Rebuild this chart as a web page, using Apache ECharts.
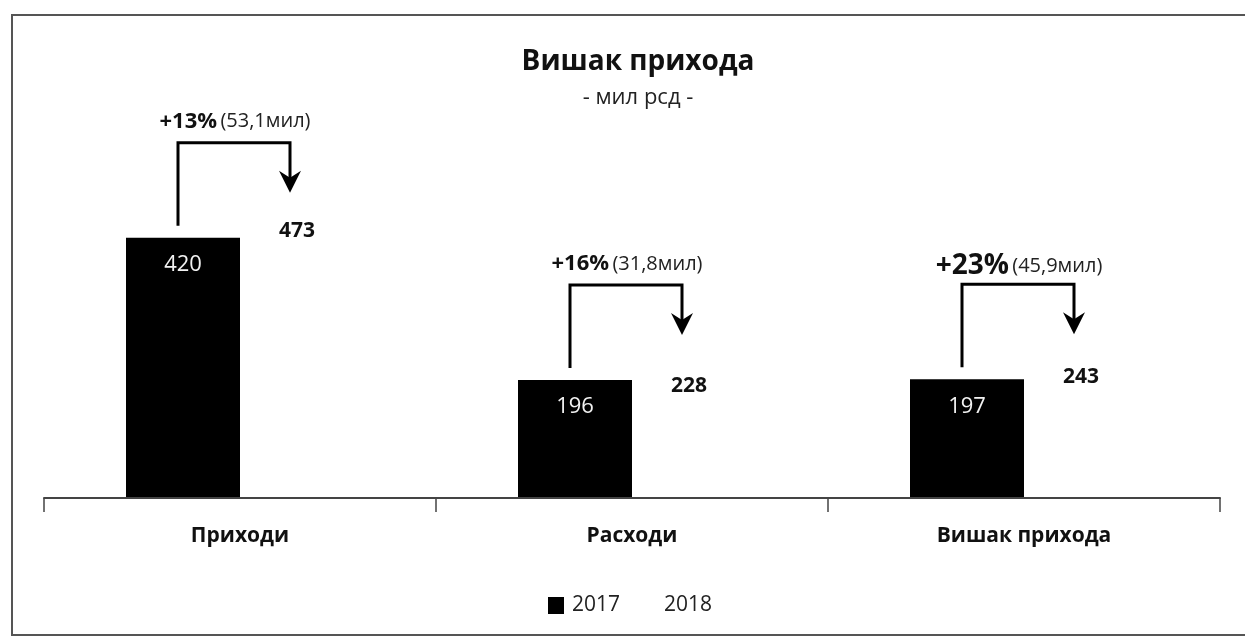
<!DOCTYPE html>
<html>
<head>
<meta charset="utf-8">
<script src="https://cdn.jsdelivr.net/npm/echarts@6/dist/echarts.min.js"></script>
<style>html,body{margin:0;padding:0;background:#fff}#c{width:1245px;height:637px}</style>
</head>
<body>
<div id="c"></div>
<script>
const categories = ['Приходи', 'Расходи', 'Вишак прихода'];
const years = ['2017', '2018'];
const values2017 = [420, 196, 197];
const values2018 = [473, 228, 243];
const growthPct = ['+13%', '+16%', '+23%'];
const growthAbs = ['(53,1мил)', '(31,8мил)', '(45,9мил)'];

const FONT = "'Open Sans', 'Noto Sans', sans-serif";
const chart = echarts.init(document.getElementById('c'), null, { renderer: 'canvas' });

chart.setOption({
  animation: false,
  backgroundColor: '#ffffff',
  title: {
    text: 'Вишак прихода',
    subtext: '- мил рсд -',
    left: 633,
    textAlign: 'center',
    top: 43,
    itemGap: 11,
    textStyle: { fontFamily: FONT, fontSize: 28, fontWeight: 'bold', color: '#111' },
    subtextStyle: { fontFamily: FONT, fontSize: 22, color: '#222' }
  },
  legend: {
    data: years,
    bottom: 16,
    left: 543,
    icon: 'rect',
    itemWidth: 16,
    itemHeight: 17,
    itemGap: 20,
    textStyle: { fontFamily: FONT, fontSize: 21, color: '#222', padding: [0, 0, 0, 3] }
  },
  grid: { left: 44, right: 25, top: 187, bottom: 139 },
  xAxis: {
    type: 'category',
    data: categories,
    z: 5,
    axisLine: { lineStyle: { color: '#444', width: 2 } },
    axisTick: { show: true, length: 14, lineStyle: { color: '#444', width: 1.5 } },
    axisLabel: { margin: 28, fontFamily: FONT, fontSize: 21, fontWeight: 'bold', color: '#111' }
  },
  yAxis: {
    type: 'value',
    min: 10,
    max: 500,
    show: false,
    splitLine: { show: false }
  },
  series: [
    {
      name: years[0],
      type: 'bar',
      data: values2017,
      barWidth: 114,
      barGap: '0%',
      itemStyle: { color: '#000000' },
      label: {
        show: true,
        position: 'insideTop',
        distance: 16,
        fontFamily: FONT,
        fontSize: 22,
        color: '#f2f2f2'
      }
    },
    {
      name: years[1],
      type: 'bar',
      data: values2018,
      barWidth: 114,
      barGap: '0%',
      itemStyle: { color: '#ffffff' },
      label: {
        show: true,
        position: 'insideTop',
        distance: 16,
        fontFamily: FONT,
        fontSize: 21,
        fontWeight: 'bold',
        color: '#111'
      }
    }
  ]
});

// Annotation brackets derived from the rendered bar layouts
const d0 = chart.getModel().getSeriesByIndex(0).getData();
const d1 = chart.getModel().getSeriesByIndex(1).getData();
const graphics = [];
graphics.push({
  type: 'rect',
  shape: { x: 12, y: 15, width: 1250, height: 620 },
  style: { fill: null, stroke: '#555', lineWidth: 2 },
  silent: true
});
for (let i = 0; i < categories.length; i++) {
  const a = d0.getItemLayout(i);
  const b = d1.getItemLayout(i);
  const top2017 = Math.min(a.y, a.y + a.height);
  const xl = a.x + a.width / 2 - 5;
  const xr = b.x + b.width / 2 - 7;
  const yTop = top2017 - 95;
  const yTip = yTop + 50;
  const yLeft = top2017 - 12;
  graphics.push({
    type: 'polyline',
    shape: { points: [[xl, yLeft], [xl, yTop], [xr, yTop], [xr, yTip - 8]] },
    style: { stroke: '#000', lineWidth: 3, fill: null },
    silent: true
  });
  graphics.push({
    type: 'polygon',
    shape: { points: [[xr, yTip], [xr - 11, yTip - 22], [xr, yTip - 15], [xr + 11, yTip - 22]] },
    style: { fill: '#000' },
    silent: true
  });
  const big = i === 2;
  graphics.push({
    type: 'text',
    x: (xl + xr) / 2 + 1,
    y: yTop - (big ? 18 : 21),
    style: {
      text: '{b|' + growthPct[i] + '} {n|' + growthAbs[i] + '}',
      align: 'center',
      verticalAlign: 'middle',
      rich: {
        b: { fontFamily: FONT, fontSize: big ? 28 : 22, fontWeight: 'bold', fill: '#111' },
        n: { fontFamily: FONT, fontSize: 20, fill: '#222' }
      }
    },
    silent: true
  });
}
chart.setOption({ graphic: graphics });
</script>
</body>
</html>
